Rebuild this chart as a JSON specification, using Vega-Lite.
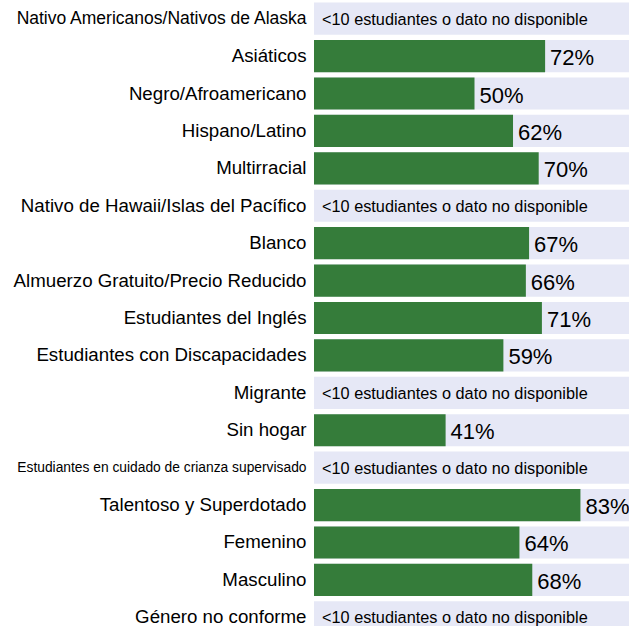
{
  "$schema": "https://vega.github.io/schema/vega-lite/v6.json",
  "autosize": "none",
  "padding": {"left": 314, "top": 0, "right": 0, "bottom": 0},
  "width": 321,
  "height": 636,
  "background": "white",
  "config": {"view": {"stroke": null}, "font": "Liberation Sans"},
  "data": {"values": [
    {"group": "Nativo Americanos/Nativos de Alaska", "value": null},
    {"group": "Asiáticos", "value": 72},
    {"group": "Negro/Afroamericano", "value": 50},
    {"group": "Hispano/Latino", "value": 62},
    {"group": "Multirracial", "value": 70},
    {"group": "Nativo de Hawaii/Islas del Pacífico", "value": null},
    {"group": "Blanco", "value": 67},
    {"group": "Almuerzo Gratuito/Precio Reducido", "value": 66},
    {"group": "Estudiantes del Inglés", "value": 71},
    {"group": "Estudiantes con Discapacidades", "value": 59},
    {"group": "Migrante", "value": null},
    {"group": "Sin hogar", "value": 41},
    {"group": "Estudiantes en cuidado de crianza supervisado", "value": null},
    {"group": "Talentoso y Superdotado", "value": 83},
    {"group": "Femenino", "value": 64},
    {"group": "Masculino", "value": 68},
    {"group": "Género no conforme", "value": null}
  ]},
  "encoding": {
    "y": {
      "field": "group", "type": "nominal", "sort": null,
      "scale": {"paddingInner": 0.14, "paddingOuter": 0.07},
      "axis": {
        "title": null, "ticks": false, "domain": false, "labelPadding": 8,
        "labelColor": "#000000", "labelLimit": 400,
        "labelFontSize": {"expr": "datum.value == 'Estudiantes en cuidado de crianza supervisado' ? 13.8 : (datum.value == 'Nativo Americanos/Nativos de Alaska' ? 17.5 : 18.7)"}
      }
    }
  },
  "layer": [
    {
      "mark": {"type": "bar", "color": "#e6e8f6"},
      "encoding": {
        "x": {"datum": 100, "type": "quantitative", "scale": {"domain": [0, 100]}, "axis": null}
      }
    },
    {
      "transform": [{"filter": "isValid(datum.value)"}],
      "mark": {"type": "bar", "color": "#357c3a"},
      "encoding": {
        "x": {"field": "value", "type": "quantitative", "scale": {"domain": [0, 100]}, "axis": null}
      }
    },
    {
      "transform": [{"filter": "isValid(datum.value)"}, {"calculate": "datum.value + '%'", "as": "lbl"}],
      "mark": {"type": "text", "align": "left", "baseline": "middle", "dx": 5, "dy": 2, "fontSize": 22, "color": "#000000"},
      "encoding": {
        "x": {"field": "value", "type": "quantitative"},
        "text": {"field": "lbl"}
      }
    },
    {
      "transform": [{"filter": "!isValid(datum.value)"}],
      "mark": {"type": "text", "align": "left", "baseline": "middle", "dx": 8, "dy": 1, "fontSize": 16.3, "color": "#000000", "text": "<10 estudiantes o dato no disponible"},
      "encoding": {
        "x": {"datum": 0, "type": "quantitative"}
      }
    }
  ]
}
